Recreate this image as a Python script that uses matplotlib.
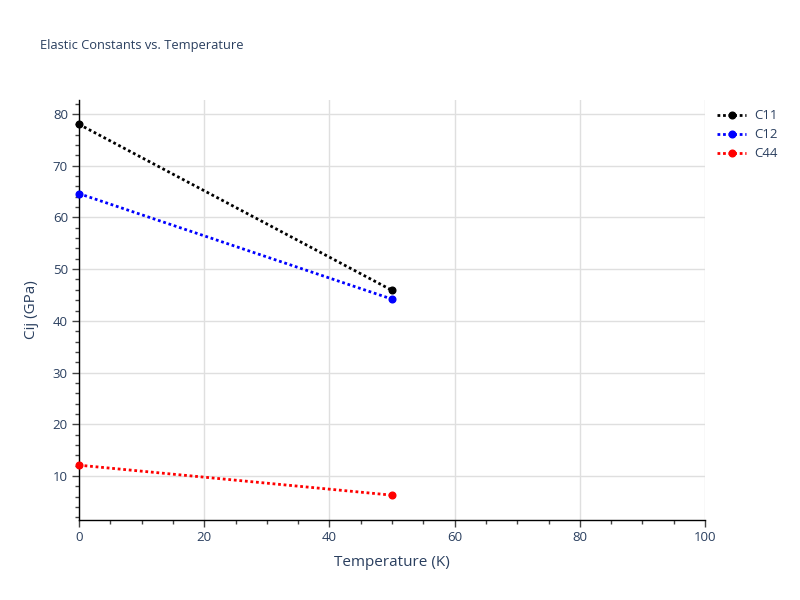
import matplotlib
matplotlib.use("Agg")
import matplotlib.pyplot as plt
from matplotlib.ticker import MultipleLocator
from matplotlib.lines import Line2D

plt.rcParams['font.family'] = ['Open Sans', 'DejaVu Sans']

temps = [0, 50]
c11 = [78.0, 45.9]
c12 = [64.6, 44.2]
c44 = [12.1, 6.3]
names = ["C11", "C12", "C44"]
colors = ["black", "blue", "red"]

fig = plt.figure(figsize=(8, 6), dpi=100)
ax = fig.add_axes([79/800, 80/600, 626/800, 420/600])
for vals, c, n in zip([c11, c12, c44], colors, names):
    ax.plot(temps, vals, linestyle=(0, (1, 1)), color=c, lw=2, marker="o",
            markersize=4.8, label=n, clip_on=False, zorder=3)

ax.set_xlim(0, 100)
ax.set_ylim(1.5, 82.7)
ax.xaxis.set_major_locator(MultipleLocator(20))
ax.xaxis.set_minor_locator(MultipleLocator(5))
ax.yaxis.set_major_locator(MultipleLocator(10))
ax.yaxis.set_minor_locator(MultipleLocator(2))
ax.grid(True, which="major", color="#dfdfdf", lw=1)
ax.set_axisbelow(True)
for s in ["top", "right"]:
    ax.spines[s].set_visible(False)
for s in ["left", "bottom"]:
    ax.spines[s].set_color("black")
    ax.spines[s].set_linewidth(1)
tc = "#2a3f5f"
ax.tick_params(which="major", length=5, width=1, color="#444444", labelsize=9.5, labelcolor=tc, pad=3)
ax.tick_params(which="minor", length=3, width=1, color="#444444")
ax.set_xlabel("Temperature (K)", fontsize=11, color=tc, labelpad=8)
ax.set_ylabel("Cij (GPa)", fontsize=11, color=tc, labelpad=10)
fig.text(40/800, 1 - 46/600, "Elastic Constants vs. Temperature", fontsize=9.3, color=tc, va="center")

handles = [Line2D([0], [0], color=c, lw=2, linestyle=(0, (1, 1)), marker="o", markersize=4.8)
           for c in colors]
leg = fig.legend(handles, names, loc="upper left", bbox_to_anchor=(712/800, 1 - 104/600),
                 frameon=False, fontsize=9.5, handlelength=2.2, labelspacing=0.45,
                 borderaxespad=0, handletextpad=0.6)
for t in leg.get_texts():
    t.set_color(tc)

fig.savefig("out.png", dpi=100)
